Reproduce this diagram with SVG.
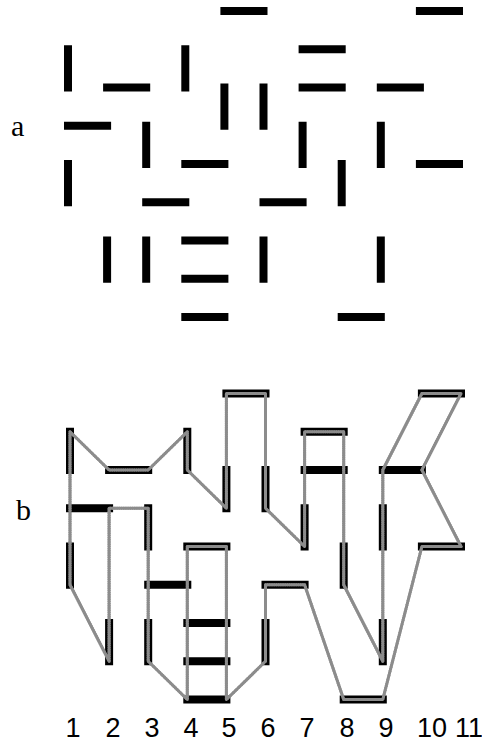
<svg xmlns="http://www.w3.org/2000/svg" width="482" height="745" viewBox="0 0 482 745">
<style>
.bar{fill:#000}
.lbl{font-family:"Liberation Serif","Times New Roman",serif;font-size:30px;fill:#000}
.num{font-family:"Liberation Sans",Arial,sans-serif;font-size:27px;fill:#000;text-anchor:middle}
.ctr-under{fill:none;stroke:#8c8c8c;stroke-width:3;stroke-linejoin:round}
.ctr-over{fill:none;stroke:#fff;stroke-width:1.6;stroke-dasharray:1.4 0.8;stroke-linejoin:round}
</style>
<defs>
<rect id="h" class="bar" width="47.1" height="8"/>
<rect id="v" class="bar" width="8" height="46.25"/>
<g id="bars">
<use href="#h" x="220.4" y="7"/>
<use href="#h" x="415.9" y="7"/>
<use href="#h" x="298.6" y="45.25"/>
<use href="#h" x="103.1" y="83.5"/>
<use href="#h" x="298.6" y="83.5"/>
<use href="#h" x="376.8" y="83.5"/>
<use href="#h" x="64" y="121.75"/>
<use href="#h" x="181.3" y="160"/>
<use href="#h" x="415.9" y="160"/>
<use href="#h" x="142.2" y="198.25"/>
<use href="#h" x="259.5" y="198.25"/>
<use href="#h" x="181.3" y="236.5"/>
<use href="#h" x="181.3" y="274.75"/>
<use href="#h" x="181.3" y="313"/>
<use href="#h" x="337.7" y="313"/>
<use href="#v" x="64" y="45.25"/>
<use href="#v" x="181.3" y="45.25"/>
<use href="#v" x="220.4" y="83.5"/>
<use href="#v" x="259.5" y="83.5"/>
<use href="#v" x="142.2" y="121.75"/>
<use href="#v" x="298.6" y="121.75"/>
<use href="#v" x="376.8" y="121.75"/>
<use href="#v" x="64" y="160"/>
<use href="#v" x="337.7" y="160"/>
<use href="#v" x="103.1" y="236.5"/>
<use href="#v" x="142.2" y="236.5"/>
<use href="#v" x="259.5" y="236.5"/>
<use href="#v" x="376.8" y="236.5"/>
</g>
</defs>

<g id="panel-a">
<text class="lbl" x="11" y="136">a</text>
<use href="#bars"/>
</g>

<g id="panel-b">
<text class="lbl" x="16" y="520">b</text>
<g transform="translate(2,382.5)">
<use href="#bars"/>
<g id="connectors">
<path id="contour" class="ctr-under" d="M68,49.25 L107.1,87.5 L146.2,87.5 L185.3,49.25 L185.3,87.5 L224.4,125.75 L224.4,11 L263.5,11 L263.5,125.75 L302.6,164 L302.6,49.25 L341.7,49.25 L341.7,202.25 L380.8,278.75 L380.8,87.5 L419.9,11 L459,11 L419.9,87.5 L459,164 L419.9,164 L380.8,317 L341.7,317 L302.6,202.25 L263.5,202.25 L263.5,278.75 L224.4,317 L224.4,164 L185.3,164 L185.3,317 L146.2,278.75 L146.2,125.75 L107.1,125.75 L107.1,278.75 L68,202.25 Z"/>
<use href="#contour" class="ctr-over"/>
</g>
</g>
<g id="column-numbers">
<text class="num" x="73" y="737">1</text>
<text class="num" x="113" y="737">2</text>
<text class="num" x="152" y="737">3</text>
<text class="num" x="191" y="737">4</text>
<text class="num" x="229" y="737">5</text>
<text class="num" x="268" y="737">6</text>
<text class="num" x="307" y="737">7</text>
<text class="num" x="347" y="737">8</text>
<text class="num" x="386" y="737">9</text>
<text class="num" x="432" y="737">10</text>
<text class="num" x="469" y="737">11</text>
</g>
</g>
</svg>
